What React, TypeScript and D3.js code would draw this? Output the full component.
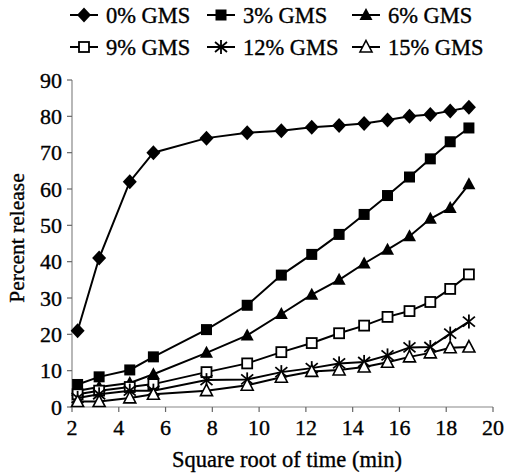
import React from "react";
import * as d3 from "d3";

const sqrtTime = [2.24, 3.16, 4.47, 5.48, 7.75, 9.49, 10.95, 12.25, 13.42, 14.49, 15.49, 16.43, 17.32, 18.17, 18.97];
const gms0 = [21, 41, 62, 70, 74, 75.5, 76, 77, 77.5, 78, 79, 80, 80.5, 81.5, 82.5];
const gms3 = [6.2, 8.3, 10.2, 13.8, 21.3, 28, 36.3, 42, 47.5, 53, 58.2, 63.3, 68.3, 73, 76.8];
const gms6 = [4.5, 5.5, 6.6, 9, 14.9, 19.7, 25.6, 30.9, 35, 39.5, 43.3, 47, 51.8, 54.8, 61.3];
const gms9 = [3.5, 4.5, 5.5, 6.3, 9.6, 12, 15.1, 17.6, 20.3, 22.4, 24.8, 26.4, 28.9, 32.5, 36.5];
const gms12 = [2.5, 3.5, 4.5, 4.5, 7.4, 7.6, 9.6, 10.7, 12, 12.4, 14.2, 16.4, 16.5, 20.2, 23.5];
const gms15 = [1.5, 1.5, 2.5, 3.5, 4.5, 6, 8.2, 9.8, 10.2, 11, 12.3, 13.8, 14.9, 16.3, 16.5];

const seriesNames = ["0% GMS", "3% GMS", "6% GMS", "9% GMS", "12% GMS", "15% GMS"];
const seriesValues = [gms0, gms3, gms6, gms9, gms12, gms15];
const markerTypes = ["diamond", "square", "triangle", "openSquare", "asterisk", "openTriangle"];
const xTicks = [2, 4, 6, 8, 10, 12, 14, 16, 18, 20];
const yTicks = [0, 10, 20, 30, 40, 50, 60, 70, 80, 90];

const FONT = "'Liberation Serif', 'Times New Roman', serif";

function Marker({ type, x, y }: { type: string; x: number; y: number }) {
  switch (type) {
    case "diamond":
      return <path d={`M${x},${y - 7.5}L${x + 7},${y}L${x},${y + 7.5}L${x - 7},${y}Z`} fill="#000" />;
    case "square":
      return <rect x={x - 5.5} y={y - 5.5} width={11} height={11} fill="#000" />;
    case "triangle":
      return <path d={`M${x},${y - 7}L${x + 6.5},${y + 5}L${x - 6.5},${y + 5}Z`} fill="#000" />;
    case "openSquare":
      return <rect x={x - 5} y={y - 5} width={10} height={10} fill="#fff" stroke="#000" strokeWidth={1.8} />;
    case "asterisk":
      return (
        <g stroke="#000" strokeWidth={1.8}>
          <line x1={x} y1={y - 7} x2={x} y2={y + 7} />
          <line x1={x - 6} y1={y - 5} x2={x + 6} y2={y + 5} />
          <line x1={x - 6} y1={y + 5} x2={x + 6} y2={y - 5} />
        </g>
      );
    case "openTriangle":
      return <path d={`M${x},${y - 6.5}L${x + 6},${y + 5}L${x - 6},${y + 5}Z`} fill="#fff" stroke="#000" strokeWidth={1.6} />;
    default:
      return null;
  }
}

export default function App() {
  const W = 505, H = 474;
  const x = d3.scaleLinear().domain([2, 20]).range([72, 493]);
  const y = d3.scaleLinear().domain([0, 90]).range([407, 80]);
  const line = d3.line<number>().x((_, i) => x(sqrtTime[i])).y((d) => y(d));

  const legendCols = [106, 243, 388];
  const legendRows = [15, 47];
  const textStyle = { stroke: "#000", strokeWidth: 0.35 };

  return (
    <svg width={W} height={H} style={{ position: "absolute", left: 0, top: 0, background: "#fff" }}>
      <rect width={W} height={H} fill="#fff" />
      {/* axes */}
      <line x1={x(2)} x2={x(2)} y1={y(90)} y2={y(0)} stroke="#888" strokeWidth={1.2} />
      <line x1={x(2)} x2={x(20)} y1={y(0)} y2={y(0)} stroke="#888" strokeWidth={1.2} />
      {yTicks.map((t) => (
        <g key={"y" + t}>
          <line x1={x(2) - 5} x2={x(2)} y1={y(t)} y2={y(t)} stroke="#666" strokeWidth={1.2} />
          <text x={62} y={y(t)} dy="0.35em" textAnchor="end" fontFamily={FONT} fontSize={22} {...textStyle}>{t}</text>
        </g>
      ))}
      {xTicks.map((t) => (
        <g key={"x" + t}>
          <line x1={x(t)} x2={x(t)} y1={y(0)} y2={y(0) + 5} stroke="#666" strokeWidth={1.2} />
          <text x={x(t)} y={y(0) + 28} textAnchor="middle" fontFamily={FONT} fontSize={22} {...textStyle}>{t}</text>
        </g>
      ))}
      <text x={287} y={467} textAnchor="middle" fontFamily={FONT} fontSize={22.5} {...textStyle}>Square root of time (min)</text>
      <text transform="translate(24,238) rotate(-90)" textAnchor="middle" fontFamily={FONT} fontSize={21.5} {...textStyle}>Percent release</text>

      {/* series */}
      {seriesValues.map((vals, si) => (
        <g key={"s" + si}>
          <path d={line(vals) || ""} fill="none" stroke="#000" strokeWidth={2} />
          {vals.map((v, i) => (
            <Marker key={i} type={markerTypes[si]} x={x(sqrtTime[i])} y={y(v)} />
          ))}
        </g>
      ))}

      {/* legend */}
      {seriesNames.map((name, si) => {
        const cx = legendCols[si % 3];
        const cy = legendRows[Math.floor(si / 3)];
        return (
          <g key={"l" + si}>
            <line x1={cx - 36} x2={cx - 8} y1={cy} y2={cy} stroke="#000" strokeWidth={2} />
            <Marker type={markerTypes[si]} x={cx - 22} y={cy} />
            <text x={cx} y={cy} dy="0.35em" fontFamily={FONT} fontSize={22.5} {...textStyle}>{name}</text>
          </g>
        );
      })}
    </svg>
  );
}
